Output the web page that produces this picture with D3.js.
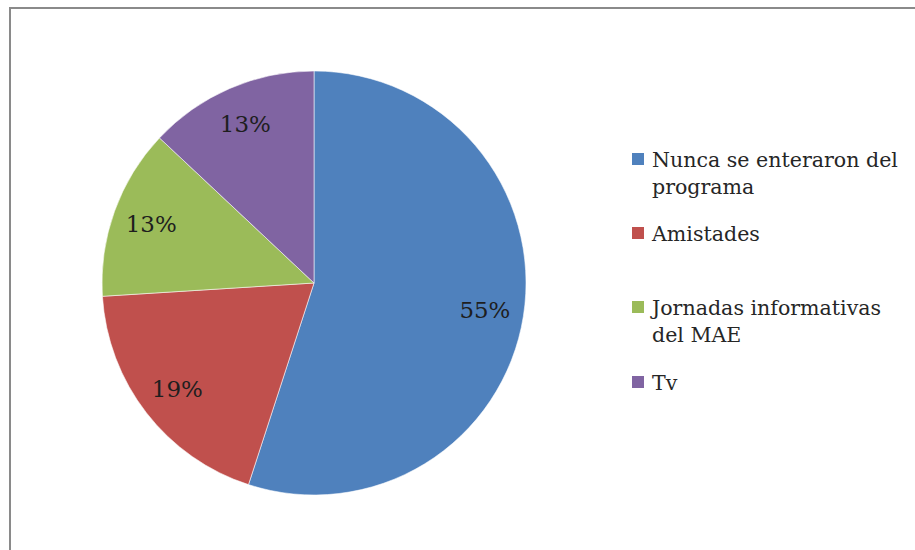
<!DOCTYPE html>
<html>
<head>
<meta charset="utf-8">
<script src="https://cdn.jsdelivr.net/npm/d3@7"></script>
<style>
  html, body { margin: 0; padding: 0; background: #fff; }
  svg { display: block; }
</style>
</head>
<body>
<svg id="chart" width="915" height="550"></svg>
<script>
// Categories, shares (percent) and slice colours
const categories = ["Nunca se enteraron del programa", "Amistades", "Jornadas informativas del MAE", "Tv"];
const legendLines = [["Nunca se enteraron del", "programa"], ["Amistades"], ["Jornadas informativas", "del MAE"], ["Tv"]];
const values = [55, 19, 13, 13];
const colors = ["#4F81BD", "#C0504D", "#9BBB59", "#8064A2"];

const svg = d3.select("#chart");
const fontFamily = "'DejaVu Serif', serif";

// Size a font so that a sample string spans the wanted width
function fitSize(sample, width) {
  const probe = svg.append("text")
    .attr("font-family", fontFamily)
    .attr("font-size", 100)
    .text(sample);
  const w = probe.node().getComputedTextLength();
  probe.remove();
  return 100 * width / w;
}

const legendSize = fitSize("Nunca se enteraron del", 246);
const pctSize = fitSize("55%", 51);

// Chart frame (right and bottom edges fall outside the visible area)
svg.append("rect")
  .attr("x", 10).attr("y", 8)
  .attr("width", 920).attr("height", 560)
  .attr("fill", "#fff")
  .attr("stroke", "#8a8a8a")
  .attr("stroke-width", 2);

const cx = 314, cy = 283, radius = 212;

const pie = d3.pie().sort(null).value(d => d);
const arcs = pie(values);
const arc = d3.arc().innerRadius(0).outerRadius(radius);
const labelArc = d3.arc().innerRadius(173).outerRadius(173);

const g = svg.append("g").attr("transform", `translate(${cx},${cy})`);

g.selectAll("path.slice")
  .data(arcs)
  .join("path")
  .attr("class", "slice")
  .attr("d", arc)
  .attr("fill", (d, i) => colors[i])
  .attr("stroke", "rgba(255,255,255,0.55)")
  .attr("stroke-width", 1);

g.selectAll("text.pct")
  .data(arcs)
  .join("text")
  .attr("class", "pct")
  .attr("transform", d => `translate(${labelArc.centroid(d)})`)
  .attr("text-anchor", "middle")
  .attr("dominant-baseline", "central")
  .attr("font-family", fontFamily)
  .attr("font-size", pctSize)
  .attr("fill", "#1e1e1e")
  .text(d => d.data + "%");

// Legend
const legendX = 632;
const legendTop = [159, 233, 307, 382];
const lineH = 27;

const items = svg.append("g").selectAll("g.item")
  .data(categories)
  .join("g")
  .attr("class", "item")
  .attr("transform", (d, i) => `translate(${legendX},${legendTop[i]})`);

items.append("rect")
  .attr("x", 0).attr("y", -6)
  .attr("width", 12).attr("height", 12)
  .attr("fill", (d, i) => colors[i]);

items.each(function(d, i) {
  const t = d3.select(this).append("text")
    .attr("x", 20)
    .attr("y", 8)
    .attr("font-family", fontFamily)
    .attr("font-size", legendSize)
    .attr("fill", "#262626");
  legendLines[i].forEach((line, k) => {
    t.append("tspan").attr("x", 20).attr("y", 8 + k * lineH).text(line);
  });
});
</script>
</body>
</html>
